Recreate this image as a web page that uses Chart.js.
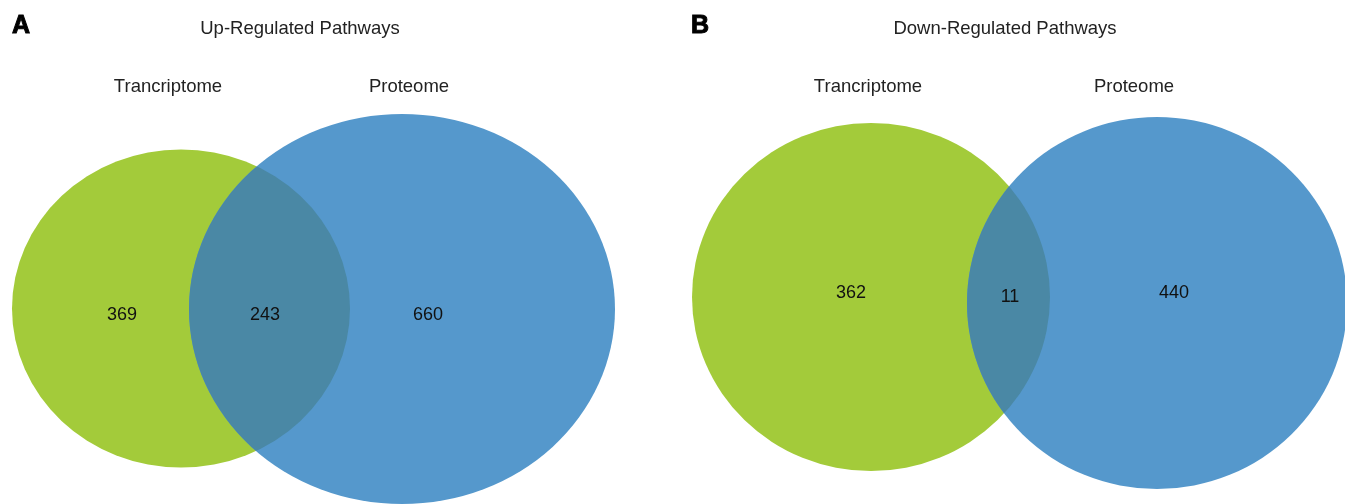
<!DOCTYPE html>
<html>
<head>
<meta charset="utf-8">
<script src="https://cdn.jsdelivr.net/npm/chart.js@4"></script>
<style>
  html, body { margin: 0; padding: 0; background: #fff; }
  #wrap { width: 1345px; height: 504px; position: relative; }
</style>
</head>
<body>
<div id="wrap"><canvas id="venn"></canvas></div>
<script>
// data
const panelLetters = ["A", "B"];
const panelTitles = ["Up-Regulated Pathways", "Down-Regulated Pathways"];
const setNames = ["Trancriptome", "Proteome"];
// [only transcriptome, both, only proteome]
const upCounts = [369, 243, 660];
const downCounts = [362, 11, 440];

const greenColor = "#A3CB3A";
const blueColor = "#5598CC";
const overlapColor = "#4A88A5";

// layout of each panel (chart units)
const layout = [
    {
        letter: [12, 26], title: [300, 29], names: [[168, 87], [409, 87]],
        green: {cx: 181, cy: 308.5, rx: 169, ry: 159},
        blue: {cx: 402, cy: 309, rx: 213, ry: 195},
        counts: [[122, 315], [265, 315], [428, 315]]
    },
    {
        letter: [691, 26], title: [1005, 29], names: [[868, 87], [1134, 87]],
        green: {cx: 871, cy: 297, rx: 179, ry: 174},
        blue: {cx: 1157, cy: 303, rx: 190, ry: 186},
        counts: [[851, 293], [1010, 297], [1174, 293]]
    }
];
const allCounts = [upCounts, downCounts];

function ellipsePath(ctx, xs, ys, e) {
    const cx = xs.getPixelForValue(e.cx);
    const cy = ys.getPixelForValue(e.cy);
    const rx = Math.abs(xs.getPixelForValue(e.cx + e.rx) - cx);
    const ry = Math.abs(ys.getPixelForValue(e.cy + e.ry) - cy);
    ctx.beginPath();
    ctx.ellipse(cx, cy, rx, ry, 0, 0, Math.PI * 2);
}

const vennPlugin = {
    id: 'venn',
    beforeDatasetsDraw: (chart) => {
        const ctx = chart.ctx;
        const xs = chart.scales.x, ys = chart.scales.y;
        layout.forEach((p) => {
            ctx.save();
            ellipsePath(ctx, xs, ys, p.green);
            ctx.fillStyle = greenColor;
            ctx.fill();
            ellipsePath(ctx, xs, ys, p.blue);
            ctx.fillStyle = blueColor;
            ctx.fill();
            // overlap
            ellipsePath(ctx, xs, ys, p.green);
            ctx.clip();
            ellipsePath(ctx, xs, ys, p.blue);
            ctx.fillStyle = overlapColor;
            ctx.fill();
            ctx.restore();
        });
    },
    afterDatasetsDraw: (chart) => {
        const ctx = chart.ctx;
        const xs = chart.scales.x, ys = chart.scales.y;
        const px = (pt) => [xs.getPixelForValue(pt[0]), ys.getPixelForValue(pt[1])];
        ctx.save();
        ctx.textBaseline = 'middle';
        layout.forEach((p, i) => {
            let [x, y] = px(p.letter);
            ctx.fillStyle = '#000';
            ctx.strokeStyle = '#000';
            ctx.lineWidth = 1;
            ctx.textAlign = 'left';
            ctx.font = 'bold 25px "Liberation Sans", Arial, sans-serif';
            ctx.fillText(panelLetters[i], x, y);
            ctx.strokeText(panelLetters[i], x, y);

            ctx.fillStyle = '#222';
            ctx.textAlign = 'center';
            ctx.font = '18.5px "Liberation Sans", Arial, sans-serif';
            [x, y] = px(p.title);
            ctx.fillText(panelTitles[i], x, y);

            p.names.forEach((n, j) => {
                const [nx, ny] = px(n);
                ctx.fillText(setNames[j], nx, ny);
            });

            ctx.fillStyle = '#111';
            ctx.font = '18px "Liberation Sans", Arial, sans-serif';
            p.counts.forEach((c, j) => {
                const [cx, cy] = px(c);
                ctx.fillText(String(allCounts[i][j]), cx, cy);
            });
        });
        ctx.restore();
    }
};

new Chart(document.getElementById('venn'), {
    type: 'scatter',
    plugins: [vennPlugin],
    data: { datasets: [{ data: [], pointRadius: 0 }] },
    options: {
        responsive: true,
        maintainAspectRatio: false,
        animation: false,
        layout: { padding: 0 },
        plugins: { legend: { display: false }, tooltip: { enabled: false } },
        scales: {
            x: { type: 'linear', min: 0, max: 1345, display: false },
            y: { type: 'linear', min: 0, max: 504, reverse: true, display: false }
        }
    }
});
</script>
</body>
</html>
